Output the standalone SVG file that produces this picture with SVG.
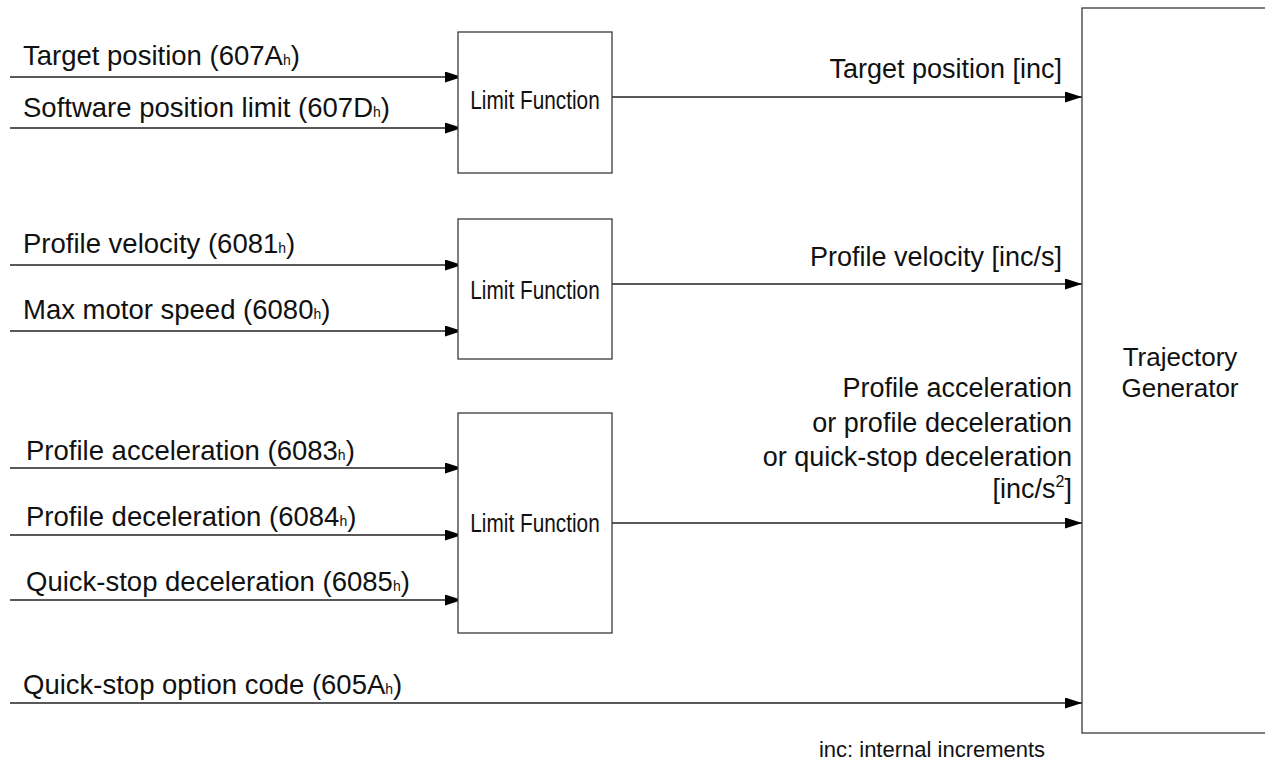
<svg xmlns="http://www.w3.org/2000/svg" width="1265" height="762" viewBox="0 0 1265 762">
  <style>
    .box { fill: #fff; stroke: #3a3a3a; stroke-width: 1.3; }
    .wire { stroke: #222; stroke-width: 1.3; fill: none; marker-end: url(#arrow); }
    text { font-family: "Liberation Sans", Arial, sans-serif; font-size: 27px; fill: #111; }
    .in { font-size: 27.5px; }
    .sub { font-size: 14px; }
    .sup { font-size: 16px; }
    .r { text-anchor: end; }
    .c { text-anchor: middle; }
    .fn { font-size: 26px; }
    .tg { font-size: 26px; }
    .note { font-size: 22px; }
  </style>
  <defs>
    <marker id="arrow" viewBox="0 0 17 11" refX="17" refY="5.5" markerWidth="17" markerHeight="11" markerUnits="userSpaceOnUse" orient="auto">
      <path d="M0,0 L17,5.5 L0,11 Z" fill="#000"/>
    </marker>
  </defs>
  <rect width="1265" height="762" fill="#fff"/>

  <g id="connectors">
    <line class="wire" x1="10" y1="77" x2="462" y2="77"/>
    <line class="wire" x1="10" y1="128" x2="462" y2="128"/>
    <line class="wire" x1="10" y1="265" x2="462" y2="265"/>
    <line class="wire" x1="10" y1="331" x2="462" y2="331"/>
    <line class="wire" x1="10" y1="468" x2="462" y2="468"/>
    <line class="wire" x1="10" y1="535" x2="462" y2="535"/>
    <line class="wire" x1="10" y1="600" x2="462" y2="600"/>
    <line class="wire" x1="612" y1="97" x2="1082" y2="97"/>
    <line class="wire" x1="612" y1="284" x2="1082" y2="284"/>
    <line class="wire" x1="612" y1="523" x2="1082" y2="523"/>
    <line class="wire" x1="10" y1="703" x2="1082" y2="703"/>
  </g>

  <g id="input-labels">
    <text class="in" x="23" y="65">Target position (607A<tspan class="sub">h</tspan>)</text>
    <text class="in" x="23" y="117">Software position limit (607D<tspan class="sub">h</tspan>)</text>
    <text class="in" x="23" y="253">Profile velocity (6081<tspan class="sub">h</tspan>)</text>
    <text class="in" x="23" y="319">Max motor speed (6080<tspan class="sub">h</tspan>)</text>
    <text class="in" x="26" y="460">Profile acceleration (6083<tspan class="sub">h</tspan>)</text>
    <text class="in" x="26" y="526">Profile deceleration (6084<tspan class="sub">h</tspan>)</text>
    <text class="in" x="26" y="591">Quick-stop deceleration (6085<tspan class="sub">h</tspan>)</text>
    <text class="in" x="23" y="694">Quick-stop option code (605A<tspan class="sub">h</tspan>)</text>
  </g>

  <g id="output-labels">
    <text class="r" x="1062" y="78">Target position [inc]</text>
    <text class="r" x="1062" y="266">Profile velocity [inc/s]</text>
    <text class="r" x="1072" y="397">Profile acceleration</text>
    <text class="r" x="1072" y="432">or profile deceleration</text>
    <text class="r" x="1072" y="466">or quick-stop deceleration</text>
    <text class="r" x="1072" y="498">[inc/s<tspan class="sup" dy="-11">2</tspan><tspan dy="11">]</tspan></text>
  </g>

  <!-- function labels are set condensed to fit the boxes -->
  <g id="limit-position">
    <rect class="box" x="458" y="32" width="154" height="141"/>
    <text class="c fn" transform="translate(535,109) scale(0.8,1)">Limit Function</text>
  </g>
  <g id="limit-velocity">
    <rect class="box" x="458" y="219" width="154" height="140"/>
    <text class="c fn" transform="translate(535,299) scale(0.8,1)">Limit Function</text>
  </g>
  <g id="limit-acceleration">
    <rect class="box" x="458" y="413" width="154" height="220"/>
    <text class="c fn" transform="translate(535,532) scale(0.8,1)">Limit Function</text>
  </g>
  <g id="trajectory-generator">
    <rect class="box" x="1082" y="8" width="200" height="725"/>
    <text class="c tg" x="1180" y="366">Trajectory</text>
    <text class="c tg" x="1180" y="397">Generator</text>
  </g>

  <text class="note c" x="932" y="757">inc: internal increments</text>
</svg>
